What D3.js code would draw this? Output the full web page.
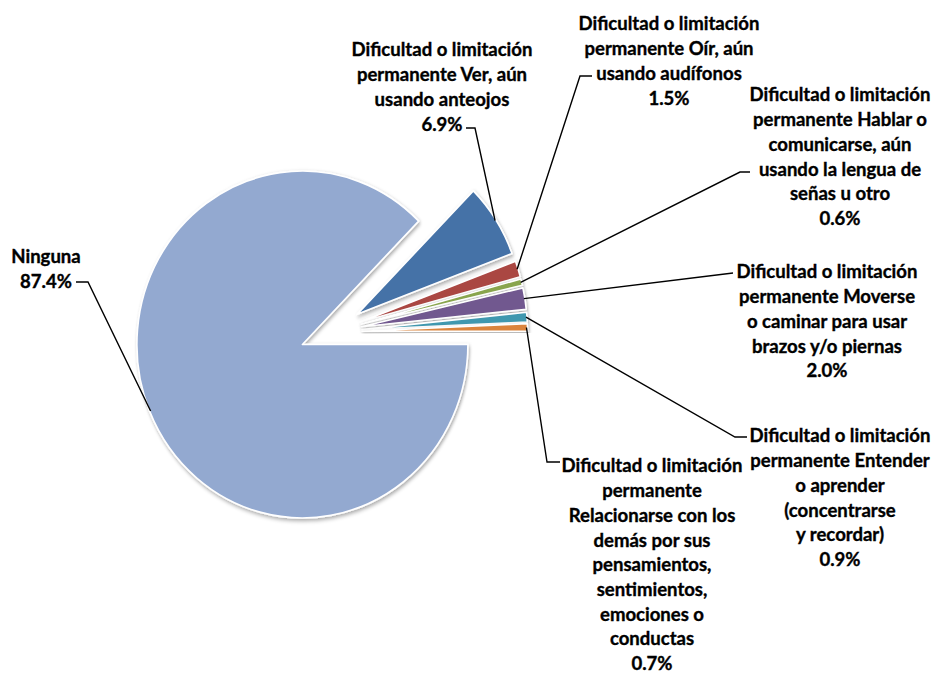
<!DOCTYPE html>
<html>
<head>
<meta charset="utf-8">
<script src="https://cdn.jsdelivr.net/npm/d3@7/dist/d3.min.js"></script>
<style>
  body { margin: 0; background: #fff; }
  .lbl text { font-family: Lato, "Open Sans", sans-serif; font-weight: 700; fill: #000; stroke: #000; stroke-width: 0.35px; }
</style>
</head>
<body>
<div id="chart"></div>
<script>
// data
const categories = [
  "Ninguna",
  "Dificultad o limitación permanente Ver, aún usando anteojos",
  "Dificultad o limitación permanente Oír, aún usando audífonos",
  "Dificultad o limitación permanente Hablar o comunicarse, aún usando la lengua de señas u otro",
  "Dificultad o limitación permanente Moverse o caminar para usar brazos y/o piernas",
  "Dificultad o limitación permanente Entender o aprender (concentrarse y recordar)",
  "Dificultad o limitación permanente Relacionarse con los demás por sus pensamientos, sentimientos, emociones o conductas"
];
const values = [87.4, 6.9, 1.5, 0.6, 2.0, 0.9, 0.7];
const labelLines = [
  ["Ninguna"],
  ["Dificultad o limitación", "permanente Ver, aún", "usando anteojos"],
  ["Dificultad o limitación", "permanente Oír, aún", "usando audífonos"],
  ["Dificultad o limitación", "permanente Hablar o", "comunicarse, aún", "usando la lengua de", "señas u otro"],
  ["Dificultad o limitación", "permanente Moverse", "o caminar para usar", "brazos y/o piernas"],
  ["Dificultad o limitación", "permanente Entender", "o aprender", "(concentrarse", "y recordar)"],
  ["Dificultad o limitación", "permanente", "Relacionarse con los", "demás por sus", "pensamientos,", "sentimientos,", "emociones o", "conductas"]
];

const colors = ["#93A9D0", "#4572A7", "#AA4643", "#89A54E", "#71588F", "#4198AF", "#DB843D"];

// label placement (center x, first line center y, leader elbow points)
const labelLayout = [
  { x: 46,  y: 257, leader: [[88, 282], [76, 282]] },
  { x: 442, y: 50,  leader: [[475, 128], [466, 128]] },
  { x: 669, y: 24,  leader: [[580, 76], [592, 76]] },
  { x: 840, y: 95,  leader: [[740, 172], [750, 172]] },
  { x: 827, y: 272, leader: [[733, 273]] },
  { x: 840, y: 436, leader: [[735, 437], [747, 437]] },
  { x: 652, y: 466, leader: [[547, 462], [560, 462]] }
];

const width = 938, height = 674,
      cx = 331, cy = 332,
      radius = 165.5, stretch = 1.048, explode = 31,
      lineH = 24.7, fontSize = 18, targetW = 181;

const svg = d3.select("#chart").append("svg")
  .attr("width", width)
  .attr("height", height);

svg.append("rect").attr("width", width).attr("height", height).attr("fill", "#fff");

svg.append("defs").append("filter")
  .attr("id", "shadow")
  .attr("x", "-20%").attr("y", "-20%").attr("width", "140%").attr("height", "140%")
  .append("feDropShadow")
  .attr("dx", 1).attr("dy", 2).attr("stdDeviation", 1.8)
  .attr("flood-color", "#000").attr("flood-opacity", 0.35);

const pie = d3.pie().sort(null)
  .startAngle(Math.PI / 2)
  .endAngle(Math.PI / 2 + 2 * Math.PI);
const arcs = pie(values);
const arc = d3.arc().innerRadius(0).outerRadius(radius);

const mid = d => (d.startAngle + d.endAngle) / 2;

const g = svg.append("g")
  .attr("transform", `translate(${cx},${cy}) scale(1,${stretch})`);

g.selectAll("path")
  .data(arcs)
  .enter()
  .append("path")
  .attr("d", arc)
  .attr("transform", d => `translate(${explode * Math.sin(mid(d))},${-explode * Math.cos(mid(d))})`)
  .attr("fill", (d, i) => colors[i])
  .attr("stroke", "#fff")
  .attr("stroke-width", 1.6)
  .attr("stroke-linejoin", "round")
  .style("filter", "url(#shadow)");

// leader lines
const line = d3.line();
arcs.forEach((d, i) => {
  const a = mid(d), rr = explode + radius - 1;
  const start = [cx + rr * Math.sin(a), cy - rr * Math.cos(a) * stretch];
  svg.append("path")
    .attr("d", line([start].concat(labelLayout[i].leader)))
    .attr("fill", "none")
    .attr("stroke", "#000")
    .attr("stroke-width", 1.4);
});

// labels
const fmt = d3.format(".1f");
const labels = svg.selectAll("g.lbl")
  .data(categories)
  .enter()
  .append("g")
  .attr("class", "lbl");

labels.each(function (c, i) {
  const lines = labelLines[i].concat([fmt(values[i]) + "%"]);
  const t = d3.select(this).append("text")
    .attr("text-anchor", "middle")
    .style("font-size", fontSize + "px");
  lines.forEach((s, k) => {
    t.append("tspan")
      .attr("x", 0)
      .attr("y", k * lineH + fontSize * 0.36)
      .text(s);
  });
});

// fit text width to reference
const probe = svg.append("text")
  .style("font-family", "Lato, 'Open Sans', sans-serif")
  .style("font-weight", 700)
  .style("font-size", fontSize + "px")
  .text("Dificultad o limitación");
const sx = targetW / probe.node().getComputedTextLength();
probe.remove();

labels.attr("transform", (c, i) => `translate(${labelLayout[i].x},${labelLayout[i].y}) scale(${sx},1)`);
</script>
</body>
</html>
